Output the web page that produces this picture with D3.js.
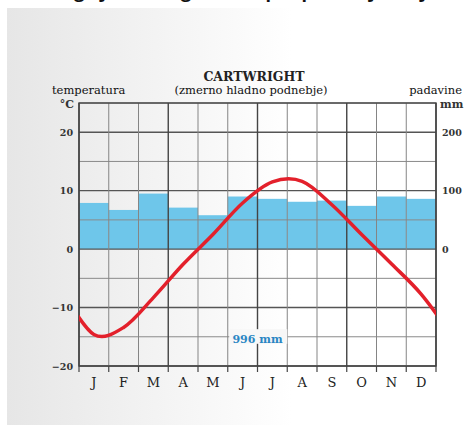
<!DOCTYPE html>
<html>
<head>
<meta charset="utf-8">
<script src="https://cdn.jsdelivr.net/npm/d3@7"></script>
<style>
  html, body { margin: 0; padding: 0; background: #fff; }
  svg { display: block; }
  text { font-family: "DejaVu Serif", serif; }
</style>
</head>
<body>
<div id="place"></div>
<script>
// podatki (odčitani s slike)
const months = ["J", "F", "M", "A", "M", "J", "J", "A", "S", "O", "N", "D"];
const temperature = [-14.6, -13.4, -8.3, -2.6, 2.5, 7.9, 11.5, 11.6, 7.6, 2.5, -2.5, -7.7];
const precipitation = [79, 67, 95, 71, 58, 90, 86, 81, 83, 74, 90, 86];
const tempTicks = [-20, -10, 0, 10, 20];
const precTicks = [0, 100, 200];
const station = "CARTWRIGHT";
const subtitle = "(zmerno hladno podnebje)";
const total = "996 mm";

const W = 467, H = 425;
const margin = { top: 103, right: 31, bottom: 59, left: 79 };
const width = W - margin.left - margin.right,
      height = H - margin.top - margin.bottom;

const svg = d3.select("#place").append("svg")
    .attr("width", W)
    .attr("height", H);

// ozadje
const defs = svg.append("defs");
const grad = defs.append("linearGradient").attr("id", "bg")
    .attr("x1", "0").attr("x2", "1").attr("y1", "0").attr("y2", "0");
grad.append("stop").attr("offset", "0").attr("stop-color", "#e6e6e6");
grad.append("stop").attr("offset", "0.62").attr("stop-color", "#ffffff");
grad.append("stop").attr("offset", "1").attr("stop-color", "#ffffff");

svg.append("rect").attr("x", 7).attr("y", 8).attr("width", W - 7).attr("height", H - 8)
    .attr("fill", "url(#bg)");

// odrezan naslov zgoraj (viden je le spodnji rob črk)
svg.append("text").attr("x", 60).attr("y", -2)
    .style("font-family", "'Open Sans', sans-serif").style("font-weight", "bold")
    .style("font-size", "18px").attr("fill", "#111")
    .text("Oglej si klimogram in opiši podnebje kraja");

defs.append("clipPath").attr("id", "clip")
    .append("rect").attr("width", width).attr("height", height);

const g = svg.append("g").attr("transform", "translate(" + margin.left + "," + margin.top + ")");

const x = d3.scaleLinear().domain([0, 12]).range([0, width]);
const y = d3.scaleLinear().domain([-20, 25]).range([height, 0]);
const yP = d3.scaleLinear().domain([-200, 250]).range([height, 0]);

// padavine
g.selectAll(".bar")
    .data(precipitation).enter()
    .append("rect")
    .attr("x", (d, i) => x(i))
    .attr("width", x(1) - x(0))
    .attr("y", d => yP(d))
    .attr("height", d => yP(0) - yP(d))
    .attr("fill", "#6ec6ea");

// mreža
const hVals = d3.range(-20, 26, 5);
g.selectAll(".hgrid").data(hVals).enter()
    .append("line")
    .attr("x1", 0).attr("x2", width)
    .attr("y1", d => y(d)).attr("y2", d => y(d))
    .attr("stroke", d => d % 10 === 0 ? "#555" : "#8a8a8a")
    .attr("stroke-width", d => d % 10 === 0 ? 1.4 : 1);

g.selectAll(".vgrid").data(d3.range(0, 13)).enter()
    .append("line")
    .attr("x1", d => x(d)).attr("x2", d => x(d))
    .attr("y1", 0).attr("y2", height)
    .attr("stroke", d => d % 3 === 0 ? "#444" : "#858585")
    .attr("stroke-width", d => d % 3 === 0 ? 1.4 : 1);

g.append("rect").attr("width", width).attr("height", height)
    .attr("fill", "none").attr("stroke", "#444").attr("stroke-width", 1.4);

// oznake osi x
g.selectAll(".tick").data(d3.range(0, 13)).enter()
    .append("line")
    .attr("x1", d => x(d)).attr("x2", d => x(d))
    .attr("y1", height).attr("y2", height + 6)
    .attr("stroke", "#444").attr("stroke-width", 1.2);

g.selectAll(".mlabel").data(months).enter()
    .append("text")
    .attr("x", (d, i) => x(i + 0.5))
    .attr("y", height + 21)
    .attr("text-anchor", "middle")
    .style("font-size", "13px")
    .attr("fill", "#222")
    .text(d => d);

g.selectAll(".tlabel").data(tempTicks).enter()
    .append("text")
    .attr("x", -6)
    .attr("y", d => y(d) + 3.5)
    .attr("text-anchor", "end")
    .style("font-size", "9.5px").style("font-weight", "bold")
    .attr("fill", "#333")
    .text(d => d < 0 ? "\u2212" + Math.abs(d) : d);

g.selectAll(".plabel").data(precTicks).enter()
    .append("text")
    .attr("x", width + 6)
    .attr("y", d => yP(d) + 3.5)
    .attr("text-anchor", "start")
    .style("font-size", "9.5px").style("font-weight", "bold")
    .attr("fill", "#333")
    .text(d => d);

// naslovi
svg.append("text").attr("x", 254).attr("y", 81).attr("text-anchor", "middle")
    .style("font-size", "12.5px").style("font-weight", "bold").attr("fill", "#222").text(station);
svg.append("text").attr("x", 251).attr("y", 94).attr("text-anchor", "middle")
    .style("font-size", "11.5px").attr("fill", "#111").text(subtitle);
svg.append("text").attr("x", 52).attr("y", 94)
    .style("font-size", "11.5px").attr("fill", "#111").text("temperatura");
svg.append("text").attr("x", 462).attr("y", 94).attr("text-anchor", "end")
    .style("font-size", "11.5px").attr("fill", "#111").text("padavine");
svg.append("text").attr("x", 74).attr("y", 108).attr("text-anchor", "end")
    .style("font-size", "11px").style("font-weight", "bold").attr("fill", "#333").text("°C");
svg.append("text").attr("x", 440).attr("y", 108)
    .style("font-size", "11px").style("font-weight", "bold").attr("fill", "#333").text("mm");

// skupne padavine
g.append("rect").attr("x", x(5.05)).attr("y", y(-13.7)).attr("width", x(7.0) - x(5.05))
    .attr("height", y(-16.2) - y(-13.7)).attr("fill", "#f7f7f7");
g.append("text").attr("x", x(6.0)).attr("y", y(-16)).attr("text-anchor", "middle")
    .style("font-size", "11px").style("font-weight", "bold")
    .attr("fill", "#2a86c4").text(total);

// temperatura (krivulja, ciklično podaljšana)
const pts = [[-0.5, temperature[11]]]
    .concat(temperature.map((d, i) => [i + 0.5, d]))
    .concat([[12.5, temperature[0]]]);

g.append("path")
    .datum(pts)
    .attr("clip-path", "url(#clip)")
    .attr("fill", "none")
    .attr("stroke", "#e3202b")
    .attr("stroke-width", 3.5)
    .attr("d", d3.line()
        .x(d => x(d[0]))
        .y(d => y(d[1]))
        .curve(d3.curveCardinal.tension(0)));
</script>
</body>
</html>
